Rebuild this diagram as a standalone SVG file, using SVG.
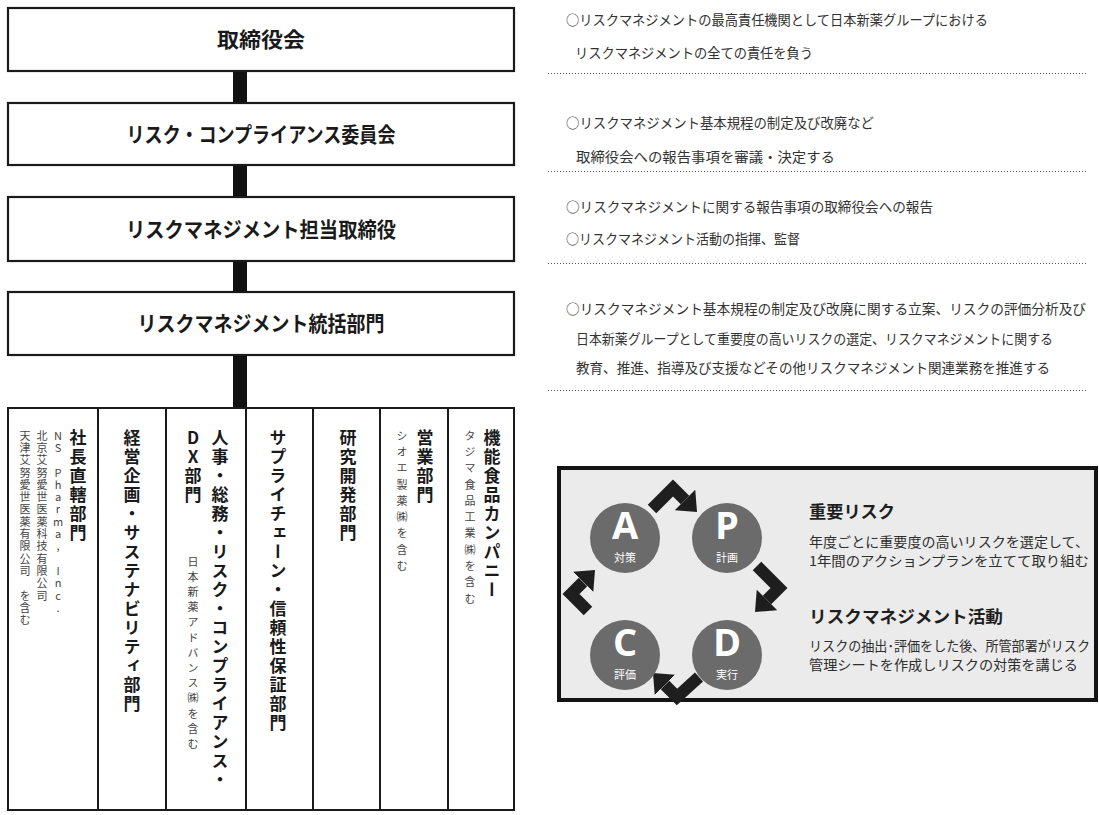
<svg xmlns="http://www.w3.org/2000/svg" width="1099" height="815" viewBox="0 0 1099 815">
<defs>
<style>
.box{fill:#fff;stroke:#1a1a1a;stroke-width:2.2}
.bt{font-family:"Noto Sans CJK JP","Liberation Sans",sans-serif;font-weight:700;font-size:21px;fill:#1a1a1a;text-anchor:middle}
.desc{font-family:"Noto Sans CJK JP","Liberation Sans",sans-serif;font-size:14px;fill:#333}
.dot{stroke:#555;stroke-width:1;stroke-dasharray:1 2;fill:none}
.bar{fill:#111}
.vt{font-family:"Noto Sans CJK JP",sans-serif;writing-mode:vertical-rl;font-weight:700;font-size:17px;fill:#1a1a1a;letter-spacing:2px}
.vs{font-family:"Noto Sans CJK JP",sans-serif;writing-mode:vertical-rl;font-size:11px;fill:#444}
.cell{fill:none;stroke:#1a1a1a;stroke-width:2}
.circ{fill:#6b6b6b}
.big{font-family:"Open Sans","Liberation Sans",sans-serif;font-weight:700;font-size:38px;fill:#fff;text-anchor:middle}
.sml{font-family:"Noto Sans CJK JP",sans-serif;font-size:11px;fill:#fff;text-anchor:middle}
.arr{fill:none;stroke:#1e1e1e;stroke-width:12;stroke-linejoin:miter}
.ht{font-family:"Noto Sans CJK JP",sans-serif;font-weight:700;font-size:17px;fill:#1e1e1e}
.hb{font-family:"Noto Sans CJK JP",sans-serif;font-size:13.5px;fill:#2e2e2e}
</style>
<marker id="ah" markerUnits="userSpaceOnUse" viewBox="0 0 10 10" refX="0" refY="5" markerWidth="17" markerHeight="29" orient="auto" preserveAspectRatio="none">
<path d="M0,0 L10,5 L0,10 z" fill="#1e1e1e"/>
</marker>
</defs>
<rect width="1099" height="815" fill="#fff"/>

<g id="connectors">
<rect class="bar" x="233" y="71" width="14" height="32"/>
<rect class="bar" x="233" y="165" width="14" height="32"/>
<rect class="bar" x="233" y="261" width="14" height="31"/>
<rect class="bar" x="233" y="355" width="14" height="53"/>
</g>

<g id="board">
<rect class="box" x="8" y="8" width="506" height="63"/>
<text class="bt" x="261" y="47" textLength="88" lengthAdjust="spacingAndGlyphs">取締役会</text>
</g>
<g id="committee">
<rect class="box" x="8" y="103" width="506" height="62"/>
<text class="bt" x="261" y="142" textLength="269" lengthAdjust="spacingAndGlyphs">リスク・コンプライアンス委員会</text>
</g>
<g id="director">
<rect class="box" x="8" y="197" width="506" height="64"/>
<text class="bt" x="261" y="237" textLength="270" lengthAdjust="spacingAndGlyphs">リスクマネジメント担当取締役</text>
</g>
<g id="rm-dept">
<rect class="box" x="8" y="292" width="506" height="63"/>
<text class="bt" x="261" y="331" textLength="247" lengthAdjust="spacingAndGlyphs">リスクマネジメント統括部門</text>
</g>

<g id="desc-1">
<text class="desc" x="566" y="25" textLength="422" lengthAdjust="spacingAndGlyphs">○リスクマネジメントの最高責任機関として日本新薬グループにおける</text>
<text class="desc" x="575" y="58" textLength="238" lengthAdjust="spacingAndGlyphs">リスクマネジメントの全ての責任を負う</text>
<line class="dot" x1="548" y1="73.5" x2="1087" y2="73.5"/>
</g>
<g id="desc-2">
<text class="desc" x="566" y="128" textLength="308" lengthAdjust="spacingAndGlyphs">○リスクマネジメント基本規程の制定及び改廃など</text>
<text class="desc" x="576" y="162" textLength="259" lengthAdjust="spacingAndGlyphs">取締役会への報告事項を審議・決定する</text>
<line class="dot" x1="548" y1="171.5" x2="1087" y2="171.5"/>
</g>
<g id="desc-3">
<text class="desc" x="566" y="212" textLength="367" lengthAdjust="spacingAndGlyphs">○リスクマネジメントに関する報告事項の取締役会への報告</text>
<text class="desc" x="566" y="244" textLength="234" lengthAdjust="spacingAndGlyphs">○リスクマネジメント活動の指揮、監督</text>
<line class="dot" x1="548" y1="263.5" x2="1087" y2="263.5"/>
</g>
<g id="desc-4">
<text class="desc" x="566" y="314" textLength="520" lengthAdjust="spacingAndGlyphs">○リスクマネジメント基本規程の制定及び改廃に関する立案、リスクの評価分析及び</text>
<text class="desc" x="576" y="344" textLength="477" lengthAdjust="spacingAndGlyphs">日本新薬グループとして重要度の高いリスクの選定、リスクマネジメントに関する</text>
<text class="desc" x="576" y="373" textLength="474" lengthAdjust="spacingAndGlyphs">教育、推進、指導及び支援などその他リスクマネジメント関連業務を推進する</text>
<line class="dot" x1="548" y1="390.5" x2="1087" y2="390.5"/>
</g>

<g id="departments">
<rect class="cell" x="8" y="408" width="506" height="402"/>
<line class="cell" x1="98" y1="408" x2="98" y2="810"/>
<line class="cell" x1="166" y1="408" x2="166" y2="810"/>
<line class="cell" x1="246" y1="408" x2="246" y2="810"/>
<line class="cell" x1="313" y1="408" x2="313" y2="810"/>
<line class="cell" x1="380" y1="408" x2="380" y2="810"/>
<line class="cell" x1="448" y1="408" x2="448" y2="810"/>
</g>
<g id="dept-president">
<text class="vt" x="78" y="429">社長直轄部門</text>
<text class="vs" x="58" y="430" style="text-orientation:upright;letter-spacing:1.3px">NS Pharma, Inc.</text>
<text class="vs" x="42" y="430" style="letter-spacing:1.3px">北京艾努愛世医薬科技有限公司</text>
<text class="vs" x="25" y="430" style="letter-spacing:1.3px">天津艾努愛世医薬有限公司　を含む</text>
</g>
<g id="dept-planning">
<text class="vt" x="132" y="429">経営企画・サステナビリティ部門</text>
</g>
<g id="dept-hr">
<text class="vt" x="220" y="429">人事・総務・リスク・コンプライアンス・</text>
<text class="vt" x="193" y="429" style="text-orientation:upright">DX部門</text>
<text class="vs" x="193" y="556" style="letter-spacing:4.2px">日本新薬アドバンス㈱を含む</text>
</g>
<g id="dept-supply">
<text class="vt" x="278" y="429">サプライチェーン・信頼性保証部門</text>
</g>
<g id="dept-rd">
<text class="vt" x="348" y="429">研究開発部門</text>
</g>
<g id="dept-sales">
<text class="vt" x="425" y="429">営業部門</text>
<text class="vs" x="402" y="430" style="letter-spacing:5.3px">シオエ製薬㈱を含む</text>
</g>
<g id="dept-food">
<text class="vt" x="492" y="429">機能食品カンパニー</text>
<text class="vs" x="470" y="430" style="letter-spacing:5.3px">タジマ食品工業㈱を含む</text>
</g>

<g id="pdca">
<rect x="559" y="468" width="537" height="232" fill="#ebebeb" stroke="#141414" stroke-width="4"/>
<g id="arrows">
<path class="arr" d="M652,509 L673,488 L685,500" marker-end="url(#ah)"/>
<path class="arr" d="M757,566 L779,588 L767,600" marker-end="url(#ah)"/>
<path class="arr" d="M699,677 L677,697 L665,685" marker-end="url(#ah)"/>
<path class="arr" d="M588,611 L571,594 L583,582" marker-end="url(#ah)"/>
</g>
<g id="node-a"><circle class="circ" cx="625" cy="538" r="35"/><text class="big" x="625" y="539">A</text><text class="sml" x="625" y="562">対策</text></g>
<g id="node-p"><circle class="circ" cx="727" cy="538" r="35"/><text class="big" x="727" y="539">P</text><text class="sml" x="727" y="562">計画</text></g>
<g id="node-d"><circle class="circ" cx="727" cy="655" r="35"/><text class="big" x="727" y="656">D</text><text class="sml" x="727" y="679">実行</text></g>
<g id="node-c"><circle class="circ" cx="625" cy="655" r="35"/><text class="big" x="625" y="656">C</text><text class="sml" x="625" y="679">評価</text></g>
<text class="ht" x="809" y="518" textLength="86" lengthAdjust="spacingAndGlyphs">重要リスク</text>
<text class="hb" x="809" y="547" textLength="280" lengthAdjust="spacingAndGlyphs">年度ごとに重要度の高いリスクを選定して、</text>
<text class="hb" x="809" y="566" textLength="280" lengthAdjust="spacingAndGlyphs">1年間のアクションプランを立てて取り組む</text>
<text class="ht" x="809" y="623" textLength="194" lengthAdjust="spacingAndGlyphs">リスクマネジメント活動</text>
<text class="hb" x="809" y="651" textLength="281" lengthAdjust="spacingAndGlyphs">リスクの抽出･評価をした後、所管部署がリスク</text>
<text class="hb" x="809" y="670" textLength="269" lengthAdjust="spacingAndGlyphs">管理シートを作成しリスクの対策を講じる</text>
</g>
</svg>
